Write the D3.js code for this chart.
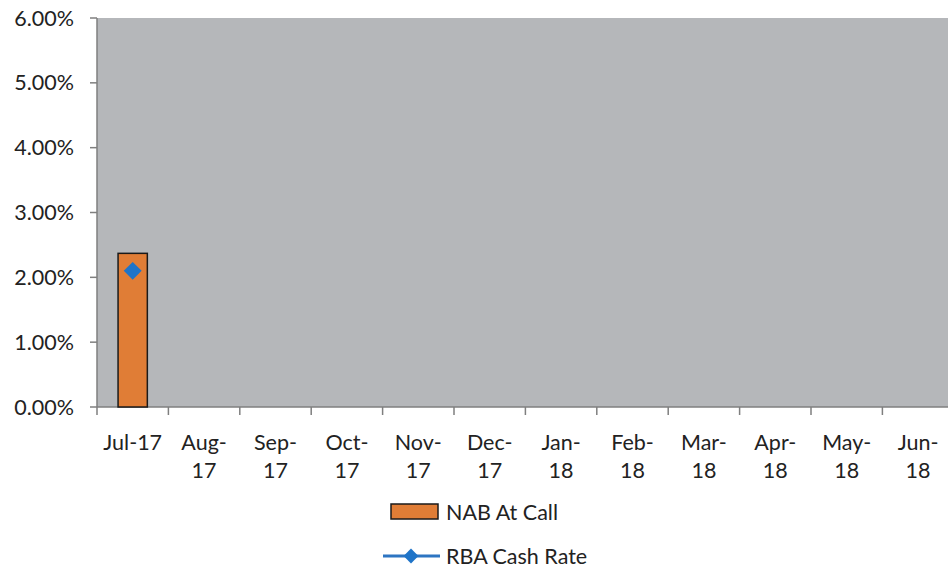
<!DOCTYPE html>
<html><head><meta charset="utf-8">
<script src="https://cdn.jsdelivr.net/npm/d3@7"></script>
<style>body{margin:0;background:#fff;overflow:hidden}svg{display:block}text{font-family:Lato,"Open Sans",sans-serif;fill:#222}</style>
</head><body><svg id="c" width="948" height="570"></svg>
<script>
const categories = [["Jul-17"],["Aug-","17"],["Sep-","17"],["Oct-","17"],["Nov-","17"],["Dec-","17"],["Jan-","18"],["Feb-","18"],["Mar-","18"],["Apr-","18"],["May-","18"],["Jun-","18"]];
const nabAtCall = [2.37, null, null, null, null, null, null, null, null, null, null, null];
const rbaCashRate = [2.1, null, null, null, null, null, null, null, null, null, null, null];
const yTicks = [0,1,2,3,4,5,6];

const svg = d3.select("#c");
const L = 97, T = 18, B = 407, W = 71.4*12;
const FS = 21.5;
const keys = categories.map((d,i)=>i);
const x = d3.scaleBand().domain(keys).range([L, L+W]).paddingInner(0.59).paddingOuter(0.295);
const xb = d3.scaleBand().domain(keys).range([L, L+W]);
const y = d3.scaleLinear().domain([0,6]).range([B,T]);

svg.append("rect").attr("x",L).attr("y",T).attr("width",W).attr("height",B-T).attr("fill","#b5b7ba");

// y axis
svg.append("line").attr("x1",L).attr("x2",L).attr("y1",T).attr("y2",B).attr("stroke","#7f7f7f").attr("stroke-width",1.5);
const yt = svg.selectAll(".yt").data(yTicks).enter().append("g");
yt.append("line").attr("x1",L-7).attr("x2",L).attr("y1",d=>y(d)).attr("y2",d=>y(d)).attr("stroke","#7f7f7f").attr("stroke-width",1.5);
yt.append("text").attr("x",74).attr("y",d=>y(d)).attr("dy","0.35em").attr("text-anchor","end").attr("font-size",FS).text(d=>d.toFixed(2)+"%");

// x axis
svg.append("line").attr("x1",L).attr("x2",L+W).attr("y1",B).attr("y2",B).attr("stroke","#7f7f7f").attr("stroke-width",1.5);
svg.selectAll(".xt").data(keys.concat([12])).enter().append("line")
  .attr("x1",d=>L+d*xb.bandwidth()).attr("x2",d=>L+d*xb.bandwidth()).attr("y1",B).attr("y2",B+8).attr("stroke","#7f7f7f").attr("stroke-width",1.5);
const xl = svg.selectAll(".xl").data(keys).enter().append("text").attr("text-anchor","middle").attr("font-size",FS)
  .attr("x",d=>xb(d)+xb.bandwidth()/2).attr("y",450);
xl.selectAll("tspan").data(d=>categories[d]).enter().append("tspan")
  .attr("x",function(){return d3.select(this.parentNode).attr("x");}).attr("dy",(d,i)=>i?28:0).text(d=>d);

// bars
svg.selectAll(".bar").data(keys.filter(i=>nabAtCall[i]!=null)).enter().append("rect")
  .attr("x",d=>x(d)).attr("width",x.bandwidth()).attr("y",d=>y(nabAtCall[d])).attr("height",d=>B-y(nabAtCall[d]))
  .attr("fill","#e07d36").attr("stroke","#1a1a1a").attr("stroke-width",1.5);

// line + diamonds
const line = d3.line().defined(d=>rbaCashRate[d]!=null).x(d=>xb(d)+xb.bandwidth()/2).y(d=>y(rbaCashRate[d]));
svg.append("path").datum(keys).attr("d",line).attr("fill","none").attr("stroke","#2d75c2").attr("stroke-width",3);
const sq = s => d3.symbol().type(d3.symbolSquare).size(s)();
svg.selectAll(".pt").data(keys.filter(i=>rbaCashRate[i]!=null)).enter().append("path")
  .attr("d",sq(160)).attr("transform",d=>`translate(${xb(d)+xb.bandwidth()/2},${y(rbaCashRate[d])}) rotate(45)`)
  .attr("fill","#1f74c8");

// legend
const lg = svg.append("g");
lg.append("rect").attr("x",391).attr("y",504).attr("width",47).attr("height",15).attr("fill","#e07d36").attr("stroke","#1a1a1a").attr("stroke-width",1.5);
lg.append("text").attr("x",446).attr("y",512).attr("dy","0.35em").attr("font-size",FS).text("NAB At Call");
lg.append("line").attr("x1",383).attr("x2",440).attr("y1",556).attr("y2",556).attr("stroke","#2d75c2").attr("stroke-width",3);
lg.append("path").attr("d",sq(110)).attr("transform","translate(411,556) rotate(45)").attr("fill","#1f74c8");
lg.append("text").attr("x",446).attr("y",556).attr("dy","0.35em").attr("font-size",FS).text("RBA Cash Rate");
</script></body></html>
